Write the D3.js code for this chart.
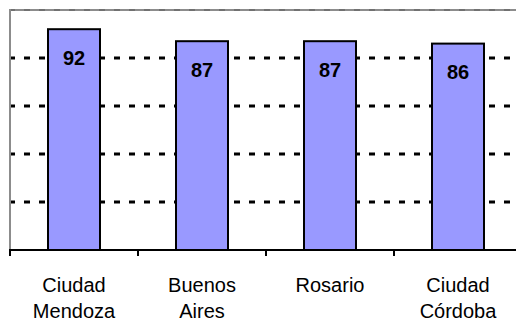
<!DOCTYPE html>
<html>
<head>
<meta charset="utf-8">
<script src="https://cdn.jsdelivr.net/npm/d3@7/dist/d3.min.js"></script>
<style>
  html, body { margin: 0; padding: 0; background: #fff; }
  svg { display: block; }
  text { font-family: "Liberation Sans", Arial, sans-serif; fill: #000; }
</style>
</head>
<body>
<svg id="chart" width="516" height="322"></svg>
<script>
// Cities and their scores
const categories = [["Ciudad", "Mendoza"], ["Buenos", "Aires"], ["Rosario"], ["Ciudad", "Córdoba"]];
const values = [92, 87, 87, 86];
const gridTicks = [20, 40, 60, 80];
const yMax = 100;

const svg = d3.select("#chart");
const W = 516, H = 322;
const plotLeft = 10, plotRight = 522, plotTop = 10, plotBottom = 250;

const keys = categories.map(c => c.join(" "));
const pad = 76 / 128;
const x = d3.scaleBand().domain(keys).range([plotLeft, plotRight])
  .paddingInner(pad).paddingOuter(pad / 2);
const y = d3.scaleLinear().domain([0, yMax]).range([plotBottom, plotTop]);

// dashed horizontal gridlines
svg.append("g").selectAll("line").data(gridTicks).join("line")
  .attr("x1", plotLeft).attr("x2", W)
  .attr("y1", d => y(d)).attr("y2", d => y(d))
  .attr("stroke", "#000").attr("stroke-width", 3)
  .attr("stroke-dasharray", "6,9").attr("stroke-dashoffset", 1);

// plot frame: top and left edges
svg.append("line").attr("x1", plotLeft).attr("x2", W)
  .attr("y1", y(yMax)).attr("y2", y(yMax))
  .attr("stroke", "#8c8c8c").attr("stroke-width", 2);
svg.append("line").attr("x1", plotLeft).attr("x2", W)
  .attr("y1", y(yMax)).attr("y2", y(yMax))
  .attr("stroke", "#555").attr("stroke-opacity", 0.5).attr("stroke-width", 2)
  .attr("stroke-dasharray", "6,9").attr("stroke-dashoffset", 1);
svg.append("line").attr("x1", plotLeft).attr("x2", plotLeft)
  .attr("y1", y(yMax) - 1).attr("y2", plotBottom)
  .attr("stroke", "#8c8c8c").attr("stroke-width", 2);

// bars
svg.append("g").selectAll("rect").data(values).join("rect")
  .attr("x", (d, i) => x(keys[i]))
  .attr("y", d => y(d))
  .attr("width", x.bandwidth())
  .attr("height", d => y(0) - y(d))
  .attr("fill", "#9999ff")
  .attr("stroke", "#000").attr("stroke-width", 2);

// value labels inside bars
svg.append("g").selectAll("text").data(values).join("text")
  .attr("x", (d, i) => x(keys[i]) + x.bandwidth() / 2)
  .attr("y", d => y(d) + 35.5)
  .attr("text-anchor", "middle")
  .attr("font-size", 20).attr("font-weight", "bold")
  .text(d => d);

// category axis with ticks at band boundaries
const xAxis = svg.append("g");
const step = x.step();
const bounds = d3.range(keys.length + 1).map(i => plotLeft + i * step);
xAxis.append("line").attr("x1", plotLeft - 1).attr("x2", W)
  .attr("y1", plotBottom).attr("y2", plotBottom)
  .attr("stroke", "#000").attr("stroke-width", 2);
xAxis.selectAll("line.tick").data(bounds).join("line").attr("class", "tick")
  .attr("x1", d => d).attr("x2", d => d)
  .attr("y1", plotBottom).attr("y2", plotBottom + 6)
  .attr("stroke", "#000").attr("stroke-width", 2);

const labels = xAxis.selectAll("text").data(categories).join("text")
  .attr("x", (d, i) => x(keys[i]) + x.bandwidth() / 2)
  .attr("y", 292)
  .attr("text-anchor", "middle")
  .attr("font-size", 20);
labels.selectAll("tspan").data(d => d).join("tspan")
  .attr("x", function () { return this.parentNode.getAttribute("x"); })
  .attr("dy", (d, i) => i === 0 ? 0 : 26)
  .text(d => d);
</script>
</body>
</html>
